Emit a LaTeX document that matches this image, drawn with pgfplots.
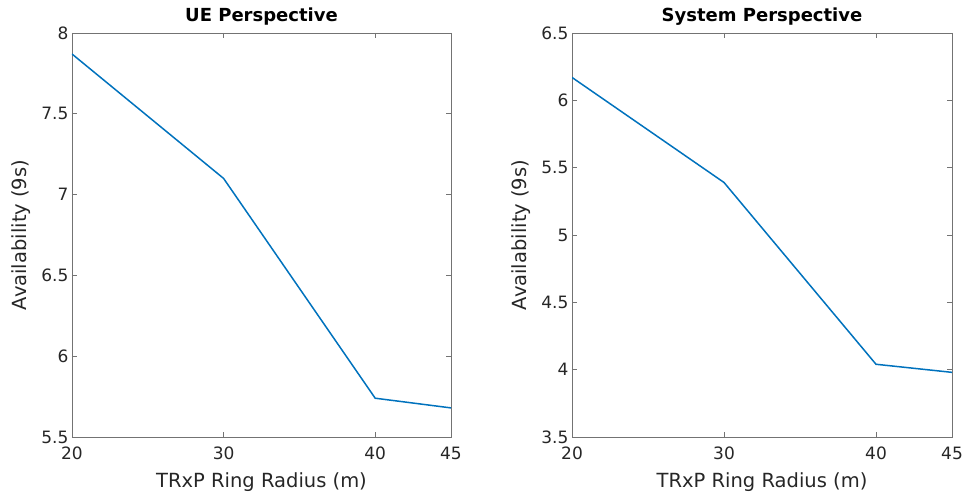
\documentclass[border=0pt]{standalone}
\usepackage{fontspec}
\setmainfont{DejaVu Sans}
\usepackage{pgfplots}
\pgfplotsset{compat=1.18}
\definecolor{mblue}{rgb}{0,0.447,0.741}
\pgfplotsset{mystyle/.style={
  scale only axis, height=404pt,
  xmin=20, xmax=45, xtick={20,30,40,45},
  axis line style={black!55, line width=0.6pt},
  tick style={black!55, line width=0.6pt},
  tick align=inside, major tick length=5pt,
  ticklabel style={font=\fontsize{17}{17}\selectfont, text=black!85},
  /pgf/number format/assume math mode=true,
  xticklabel style={yshift=-6.5pt},
  label style={font=\fontsize{19.5}{20}\selectfont, text=black!85},
  title style={font=\bfseries\fontsize{18}{20}\selectfont, at={(0.5,1.013)}, anchor=base},
  xlabel style={at={(axis description cs:0.5,-0.124)}, anchor=base},
  ylabel style={at={(axis description cs:-0.1346,0.5)}, anchor=center},
  xlabel={TRxP Ring Radius (m)}, ylabel={Availability (9s)},
}}
\begin{document}
\begin{tikzpicture}[x=1pt,y=1pt]
\useasboundingbox (0,0) rectangle (964,494);
\begin{axis}[mystyle, at={(72pt,57pt)}, anchor=south west, width=379pt,
  ymin=5.5, ymax=8, ytick={5.5,6,6.5,7,7.5,8}, title={UE Perspective}]
\addplot[mblue, line width=1.5pt] coordinates {(20,7.87) (30,7.10) (40,5.74) (45,5.68)};
\end{axis}
\begin{axis}[mystyle, at={(572pt,57pt)}, anchor=south west, width=380pt,
  ymin=3.5, ymax=6.5, ytick={3.5,4,4.5,5,5.5,6,6.5}, title={System Perspective}]
\addplot[mblue, line width=1.5pt] coordinates {(20,6.17) (30,5.39) (40,4.04) (45,3.98)};
\end{axis}
\end{tikzpicture}
\end{document}
